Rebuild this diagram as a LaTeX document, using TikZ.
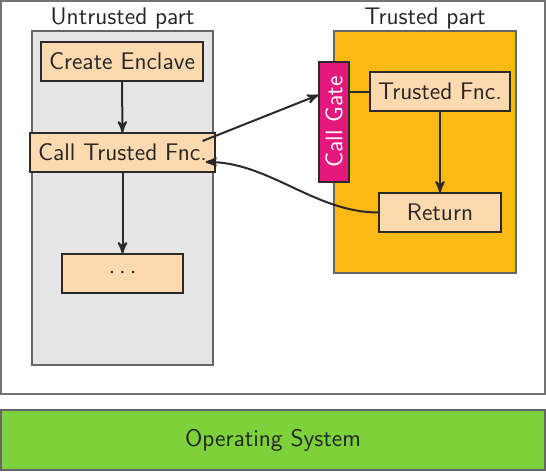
\documentclass[tikz,border=0pt]{standalone}
\usepackage{tikz}
\usetikzlibrary{arrows}
\definecolor{peach}{HTML}{FDD9B0}
\definecolor{areagray}{HTML}{E5E5E5}
\definecolor{enclaveorange}{HTML}{FCB813}
\definecolor{gatemagenta}{HTML}{E6177D}
\definecolor{osgreen}{HTML}{7DD23B}
\definecolor{darkline}{HTML}{2A2A2A}

\begin{document}
\begin{tikzpicture}[x=0.5pt, y=-0.5pt, font=\sffamily\large, >=stealth',
  stepbox/.style={rectangle, draw=darkline, semithick, fill=peach, text=black!85, inner sep=0pt, minimum height=19.5pt},
  areabox/.style={rectangle, draw=black!60, semithick, inner sep=0pt}]
\useasboundingbox (0,0) rectangle (546,472);
% outer frame and the two areas
\node[areabox, draw=black!55, minimum width=272pt, minimum height=196.5pt] at (273.0, 197.5) (host) {};
\node[areabox, fill=areagray, minimum width=90.5pt, minimum height=167pt] at (122.5, 198.0) (untrusted) {};
\node[areabox, fill=enclaveorange, minimum width=91pt, minimum height=121pt] at (425.0, 152.0) (enclave) {};
\node at (122.5, 18.0) (ulabel) {\textcolor{black!85}{Untrusted part}};
\node at (425.0, 18.0) (tlabel) {\textcolor{black!85}{Trusted part}};
% untrusted side
\node[stepbox, minimum width=81pt] at (122.0, 61.5) (create) {Create Enclave};
\node[stepbox, minimum width=92.5pt] at (122.5, 152.5) (call) {Call Trusted Fnc.};
\node[stepbox, minimum width=60.5pt] at (122.5, 273.5) (dots) {$\cdots$};
% trusted side
\node[rectangle, draw=darkline, semithick, fill=gatemagenta, text=white, inner sep=0pt, rotate=90, minimum width=60pt, minimum height=15pt] at (334.0, 122.0) (gate) {Call Gate};
\node[stepbox, minimum width=70pt] at (440.0, 91.5) (trusted) {Trusted Fnc.};
\node[stepbox, minimum width=61pt] at (440.0, 212.5) (return) {Return};
% operating system
\node[areabox, draw=black!60, fill=osgreen, minimum width=272pt, minimum height=30pt, text=black!85] at (273.0, 440.0) (os) {Operating System};
\draw[line width=1pt, ->, darkline] (create) -- (call);
\draw[line width=1pt, ->, darkline] (call) -- (dots);
\draw[line width=1pt, ->, darkline] (trusted) -- (return);
\draw[line width=1pt, darkline] (trusted.west) -- (trusted.west -| gate.south);
\draw[line width=1pt, ->, darkline] ([xshift=-6.5pt, yshift=5.75pt]call.east) -- ([yshift=13.5pt]gate.north);
\draw[line width=1pt, ->, darkline] (return.west) to[out=180, in=0, looseness=0.9] ([xshift=-5pt, yshift=-4.75pt]call.east);
\end{tikzpicture}
\end{document}
